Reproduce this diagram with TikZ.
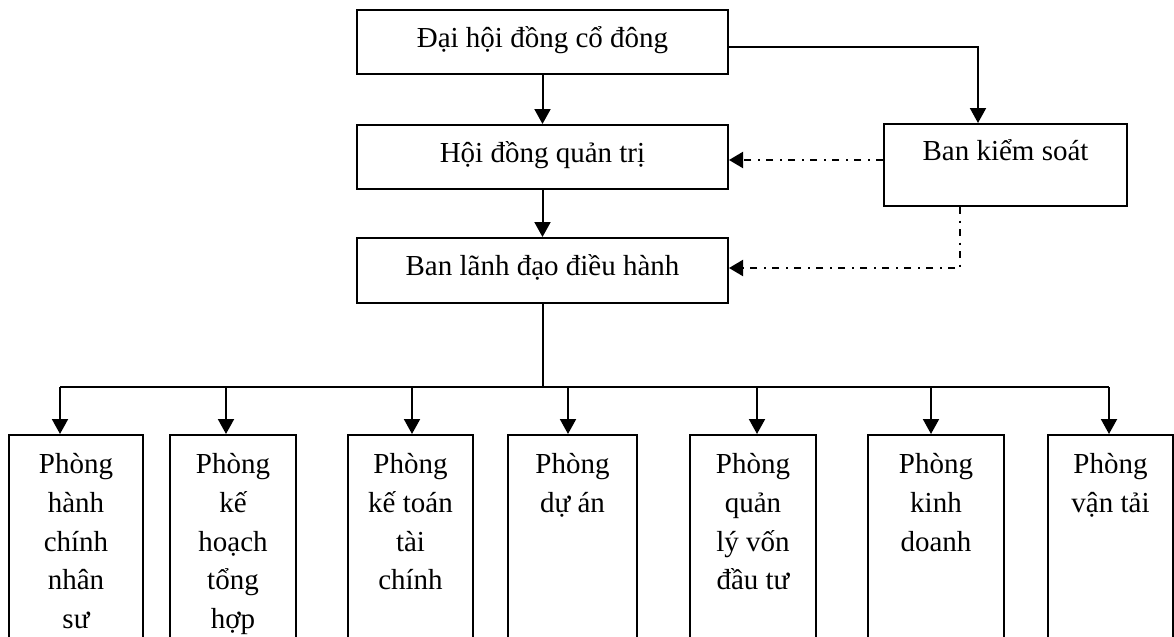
\documentclass[tikz,border=0pt]{standalone}
\usepackage{fontspec}
\setmainfont{Liberation Serif}
\usetikzlibrary{arrows.meta}
\begin{document}
\begin{tikzpicture}[x=0.5pt,y=-0.5pt,
  box/.style={draw, line width=1pt, rectangle, inner sep=0pt},
  topbox/.style={box, minimum width=185.5pt, minimum height=32pt, text height=9pt, text depth=4pt},
  dept/.style={box, minimum height=132.5pt},
  lbl/.style={anchor=north, inner sep=0pt, align=center},
  conn/.style={line width=1pt},
  arr/.style={conn, -{Triangle[width=8pt,length=7.5pt]}},
  dd/.style={line width=1pt, dash pattern=on 3.5pt off 3.25pt on 1pt off 3.25pt, -{Triangle[width=8pt,length=7pt]}},
  font=\fontsize{14.5pt}{19.4pt}\selectfont]
\useasboundingbox (0,0) rectangle (1174,637);
\clip (0,0) rectangle (1174,637);

% upper boxes
\node[topbox] (dh) at (542.5,42) {Đại hội đồng cổ đông};
\node[topbox] (hd) at (542.5,157) {Hội đồng quản trị};
\node[topbox, minimum height=32.5pt] (bld) at (542.5,270.5) {Ban lãnh đạo điều hành};
\node[box, minimum width=121.5pt, minimum height=41pt, text height=9pt, text depth=14pt] (bks) at (1005.5,165) {Ban kiểm soát};

% department boxes
\node[dept, minimum width=67pt]   (p1) at (76,567.5) {};
\node[dept, minimum width=63pt]   (p2) at (233,567.5) {};
\node[dept, minimum width=62.5pt] (p3) at (410.5,567.5) {};
\node[dept, minimum width=64.5pt] (p4) at (572.5,567.5) {};
\node[dept, minimum width=63pt]   (p5) at (753,567.5) {};
\node[dept, minimum width=68pt]   (p6) at (936,567.5) {};
\node[dept, minimum width=62.5pt] (p7) at (1110.5,567.5) {};

\node[lbl] (t1) at (76,453) {Phòng\\hành\\chính\\nhân\\sư};
\node[lbl] (t2) at (233,453) {Phòng\\kế\\hoạch\\tổng\\hợp};
\node[lbl] (t3) at (410.5,453) {Phòng\\kế toán\\tài\\chính};
\node[lbl] (t4) at (572.5,453) {Phòng\\dự án};
\node[lbl] (t5) at (753,453) {Phòng\\quản\\lý vốn\\đầu tư};
\node[lbl] (t6) at (936,453) {Phòng\\kinh\\doanh};
\node[lbl] (t7) at (1110.5,453) {Phòng\\vận tải};

% main chain
\draw[arr] (dh) -- (hd);
\draw[arr] (hd) -- (bld);

% to Ban kiem soat
\coordinate (k) at (978,47);
\draw[arr] (dh.east |- k) -- (k) -- (bks.north -| k);

% dash-dot control lines
\coordinate (d1) at (884,160);
\draw[dd] (bks.west |- d1) -- (hd.east |- d1);
\coordinate (d2) at (960,268);
\draw[dd] (bks.south -| d2) -- (d2) -- (bld.east |- d2);

% bus
\coordinate (a1) at (60,387);
\coordinate (a2) at (226,387);
\coordinate (a3) at (412,387);
\coordinate (a4) at (568,387);
\coordinate (a5) at (757,387);
\coordinate (a6) at (931,387);
\coordinate (a7) at (1109,387);
\draw[conn] (bld.south) -- (bld.south |- a1);
\draw[conn] (a1) -- (a7);
\foreach \i in {1,...,7} {
  \draw[arr] (a\i) -- (a\i |- p\i.north);
}
\end{tikzpicture}
\end{document}
